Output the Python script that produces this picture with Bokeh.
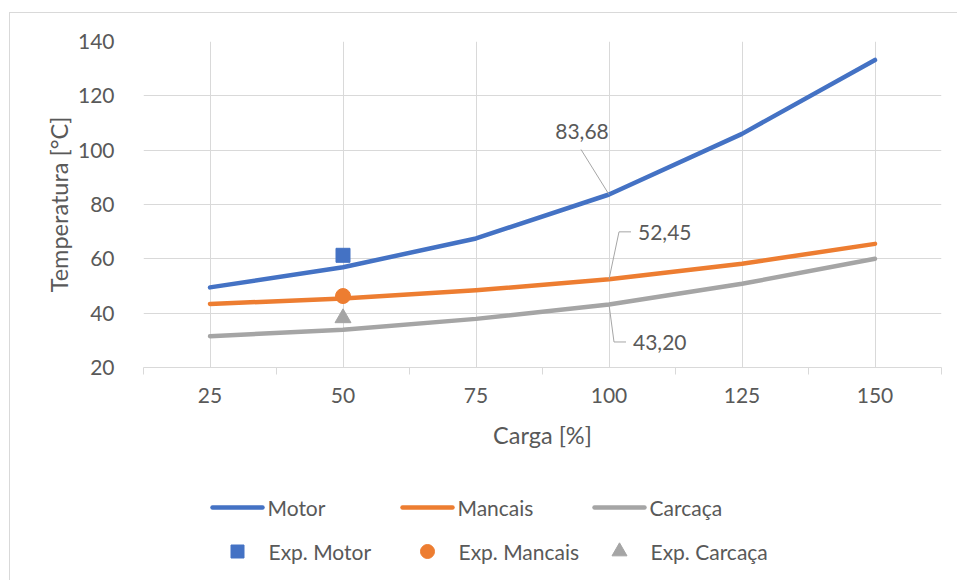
from bokeh.plotting import figure
from bokeh.models import FixedTicker, Range1d, ColumnDataSource
from bokeh.layouts import column
from bokeh.core.properties import value
from bokeh.embed import file_html
from bokeh.resources import INLINE

# Load level (%) and temperatures (°C)
carga = [25, 50, 75, 100, 125, 150]
motor = [49.5, 56.9, 67.5, 83.68, 106.0, 133.2]
mancais = [43.4, 45.4, 48.4, 52.45, 58.2, 65.5]
carcaca = [31.5, 33.9, 37.9, 43.20, 50.8, 60.0]

# Experimental measurements
exp_carga = [50]
exp_motor = [61.3]
exp_mancais = [46.3]
exp_carcaca = [38.2]

y_ticks = [20, 40, 60, 80, 100, 120, 140]
series_names = ["Motor", "Mancais", "Carcaça"]

FONT = "Lato"
TXT = "#595959"
GRID = "#D9D9D9"
BLUE, ORANGE, GREY = "#4472C4", "#ED7D31", "#A5A5A5"
colors = [BLUE, ORANGE, GREY]
SMALL, TITLE = "21px", "23.5px"

W, H = 947, 467
ML, MR, MT, MB = 133, 16, 28, 113
x0, x1 = 12.5, 162.5
y0, y1 = 20, 140

p = figure(width=W, height=H, output_backend="svg", toolbar_location=None,
           x_range=Range1d(x0, x1), y_range=Range1d(y0, y1),
           min_border_left=ML, min_border_right=MR, min_border_top=MT, min_border_bottom=MB)
p.outline_line_color = None
p.background_fill_color = "white"
p.border_fill_color = "white"

# x axis: labels at each category, small tick marks between categories
bounds = [c - 12.5 for c in carga] + [carga[-1] + 12.5]
p.xaxis.ticker = FixedTicker(ticks=carga, minor_ticks=bounds)
p.xaxis.major_tick_line_color = None
p.xaxis.minor_tick_line_color = GRID
p.xaxis.minor_tick_in = 0
p.xaxis.minor_tick_out = 7
p.xaxis.axis_line_color = GRID
p.xaxis.axis_label = "Carga [%]"
p.xaxis.major_label_standoff = 13
p.xaxis.axis_label_standoff = 15

p.yaxis.ticker = FixedTicker(ticks=y_ticks)
p.yaxis.major_tick_line_color = None
p.yaxis.minor_tick_line_color = None
p.yaxis.axis_line_color = None
p.yaxis.axis_label = "Temperatura [°C]"
p.yaxis.major_label_standoff = 23
p.yaxis.axis_label_standoff = 2

for ax in (p.xaxis[0], p.yaxis[0]):
    ax.major_label_text_font = FONT
    ax.major_label_text_font_size = SMALL
    ax.major_label_text_color = TXT
    ax.axis_label_text_font = FONT
    ax.axis_label_text_font_size = TITLE
    ax.axis_label_text_font_style = "normal"
    ax.axis_label_text_color = TXT

p.xgrid.ticker = FixedTicker(ticks=carga)
p.xgrid.grid_line_color = GRID
p.ygrid.grid_line_color = GRID

src = ColumnDataSource(dict(carga=carga, motor=motor, mancais=mancais, carcaca=carcaca))
line_style = dict(line_width=4.5, line_cap="round", line_join="round")
for col, c in zip(["motor", "mancais", "carcaca"], colors):
    p.line("carga", col, source=src, color=c, **line_style)

mk = [("square", 14), ("circle", 15), ("triangle", 16)]
for (m, s), c, ys in zip(mk, colors, [exp_motor, exp_mancais, exp_carcaca]):
    p.scatter(exp_carga, ys, marker=m, size=s, color=c)

# data labels at 100 % load, with leader lines (offsets in pixels)
kx = (x1 - x0) / (W - ML - MR)
ky = (y1 - y0) / (H - MT - MB)
i = carga.index(100)

def fmt(v):
    return f"{v:.2f}".replace(".", ",")

labels = [
    (motor[i], [(0, 0), (-28, 45)], -27, 63, "center"),
    (mancais[i], [(0, 0), (10, 47.5), (22, 47.5)], 29, 46.5, "left"),
    (carcaca[i], [(0, 0), (5, -37.5), (17, -37.5)], 24, -38.5, "left"),
]
for v, pts, tx, ty, align in labels:
    xs = [carga[i] + dx * kx for dx, dy in pts]
    ys = [v + dy * ky for dx, dy in pts]
    p.line(xs, ys, color="#A6A6A6", line_width=1)
    p.text([carga[i] + tx * kx], [v + ty * ky], text=[fmt(v)], text_font=value(FONT),
           text_font_size=SMALL, text_color=TXT, text_align=align, text_baseline="middle")

# legend strip below the chart, laid out in page pixels (x right, y down from strip top)
LH = 100
left_px = 10 + ML
right_px = 10 + W - MR
q = figure(width=W, height=LH, output_backend="svg", toolbar_location=None,
           x_range=Range1d(left_px, right_px), y_range=Range1d(LH, 0),
           x_axis_location=None, y_axis_location=None,
           min_border_left=ML, min_border_right=MR, min_border_top=0, min_border_bottom=0)
q.grid.visible = False
q.outline_line_color = None

col_x = [210, 400, 592]     # left edge of each legend column
row_y = [27, 71]            # centre of each legend row
sym_w = 54                  # width of the legend symbol area
gap = 3

q.segment(x0=[x + 2 for x in col_x], y0=[row_y[0]] * 3,
          x1=[x + sym_w - 2 for x in col_x], y1=[row_y[0]] * 3,
          color=colors, **line_style)
q.text(x=[x + sym_w + gap for x in col_x], y=[row_y[0]] * 3, text=series_names,
       text_font=value(FONT), text_font_size=SMALL, text_color=TXT,
       text_align="left", text_baseline="middle")

for x, (m, s), c in zip(col_x, mk, colors):
    q.scatter([x + sym_w / 2], [row_y[1]], marker=m, size=s - 1, color=c)
q.text(x=[x + sym_w + gap + 1 for x in col_x], y=[row_y[1]] * 3,
       text=["Exp. " + n for n in series_names],
       text_font=value(FONT), text_font_size=SMALL, text_color=TXT,
       text_align="left", text_baseline="middle")

page = column(p, q, spacing=0, margin=(12, 0, 0, 9),
              styles={"border-left": "1px solid #D9D9D9", "border-top": "1px solid #D9D9D9"})

open("out.html", "w").write(file_html(page, INLINE))
